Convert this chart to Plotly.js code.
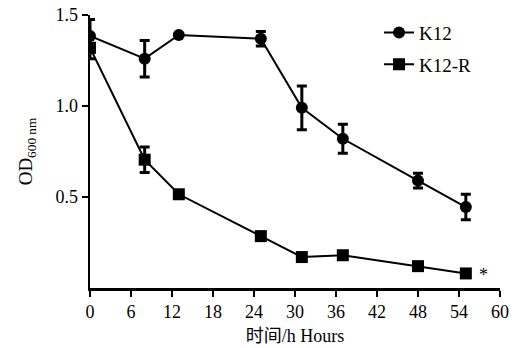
<!DOCTYPE html>
<html><head><meta charset="utf-8">
<script src="https://cdn.plot.ly/plotly-3.0.1.min.js"></script>
<style>body{margin:0;background:#fff}#c{width:522px;height:348px}</style>
</head><body><div id="c"></div>
<script>
const hours = [0, 8, 13, 25, 31, 37, 48, 55];
const k12 = [1.385, 1.26, 1.39, 1.37, 0.99, 0.82, 0.59, 0.445];
const k12Err = [0.09, 0.10, 0.0, 0.04, 0.12, 0.08, 0.04, 0.07];
const k12r = [1.32, 0.705, 0.515, 0.285, 0.17, 0.18, 0.12, 0.08];
const k12rErr = [0.06, 0.07, 0.02, 0.01, 0.01, 0.02, 0.01, 0.01];
const xTicks = [0, 6, 12, 18, 24, 30, 36, 42, 48, 54, 60];
const yTicks = [0.5, 1.0, 1.5];
const font = "'Liberation Serif', 'Times New Roman', serif";
const cjkFont = "'Liberation Serif', 'Noto Sans CJK SC', serif";

const traces = [
 {x: hours, y: k12, name: "K12", legendgroup: "a", mode: "lines+markers", type: "scatter",
  line: {color: "#000", width: 2}, marker: {symbol: "circle", size: 12, color: "#000"},
  error_y: {type: "data", array: k12Err, visible: true, color: "#000", thickness: 3, width: 5}},
 {x: hours, y: k12r, name: "K12-R", legendgroup: "b", mode: "lines+markers", type: "scatter",
  line: {color: "#000", width: 2}, marker: {symbol: "square", size: 12, color: "#000"},
  error_y: {type: "data", array: k12rErr, visible: true, color: "#000", thickness: 3, width: 5}}
];

const layout = {
 width: 522, height: 348,
 margin: {l: 90, r: 22, t: 15, b: 60},
 paper_bgcolor: "#fff", plot_bgcolor: "#fff",
 font: {family: font, size: 18, color: "#000"},
 showlegend: true,
 legend: {x: 0.705, y: 1.005, xanchor: "left", yanchor: "top", font: {family: font, size: 19},
   bgcolor: "rgba(0,0,0,0)", traceorder: "grouped", tracegroupgap: 4, itemwidth: 30},
 xaxis: {range: [0, 60], tickvals: xTicks, ticktext: xTicks.map(String),
   showgrid: false, zeroline: false, showline: true, linecolor: "#000", linewidth: 2.5,
   ticks: "outside", ticklen: 6, tickwidth: 2.5, tickcolor: "#000",
   tickfont: {family: font, size: 18},
   title: {text: "时间/h Hours", font: {family: cjkFont, size: 18}, standoff: 9}},
 yaxis: {range: [0, 1.5], tickvals: yTicks, ticktext: ["0.5", "1.0", "1.5"],
   showgrid: false, zeroline: false, showline: true, linecolor: "#000", linewidth: 2.5,
   ticks: "outside", ticklen: 6, tickwidth: 2.5, tickcolor: "#000",
   tickfont: {family: font, size: 18},
   title: {text: "OD<sub>600 nm</sub>", font: {family: font, size: 19}, standoff: 18}},
 annotations: [{x: 55, y: k12r[7], xref: "x", yref: "y", text: "*", showarrow: false,
   xshift: 18, yshift: -2, font: {family: font, size: 18}}]
};
Plotly.newPlot("c", traces, layout, {displayModeBar: false, staticPlot: true});
</script></body></html>
